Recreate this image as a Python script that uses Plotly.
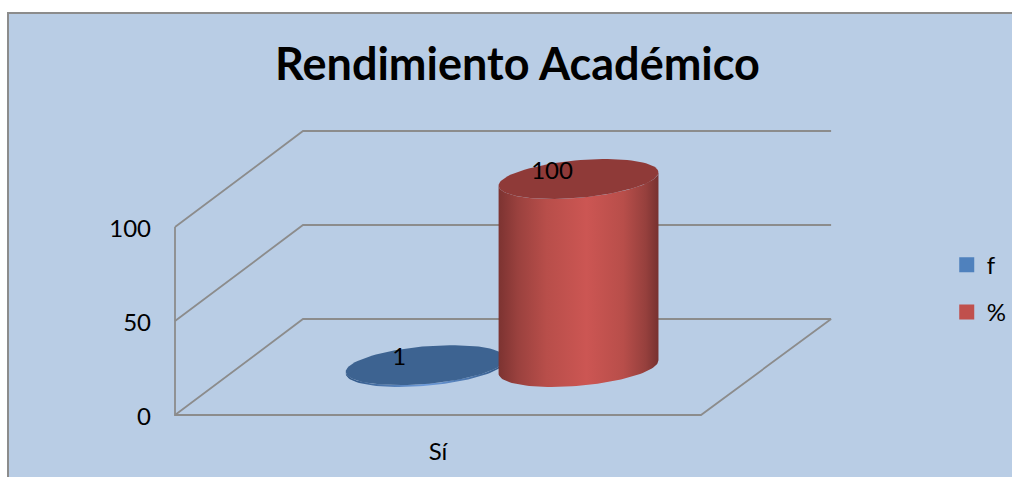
import numpy as np
import plotly.graph_objects as go

# ---- data ----
categories = ["Sí"]
series_names = ["f", "%"]
values_f = [1]
values_pct = [100]
y_ticks = [0, 50, 100]
title_text = "Rendimiento Académico"

# ---- styles ----
legend_colors = ["#4F81BD", "#C0504D"]
top_colors = ["#3D6391", "#8F3A38"]
body_scales = [
    [[0, "#2F5583"], [0.5, "#6D9BDB"], [1, "#2F5583"]],
    [[0, "#7C3331"], [0.12, "#9A413E"], [0.3, "#B84E4A"], [0.55, "#CC5653"],
     [0.78, "#B84E4A"], [0.92, "#96403D"], [1, "#773130"]],
]
GRID = "#8C8C8C"
BG = "#B9CDE5"
FONT = "Lato"

W, H = 1012, 477
L, T = 8, 13
X0, XW = 175, 526      # front edge of floor, px
Y0, YS = 415, 1.88     # baseline px, px per value unit
DX, DY = 128, 96       # depth vector px
BACK_END = 1.004       # slight perspective widening of the back wall
xr = [(L - X0) / XW, (W - X0) / XW]
yr = [(Y0 - H) / YS, (Y0 - T) / YS]
dxu, dyu = DX / XW, DY / YS


def proj(u, v, val):
    """category fraction u, depth v, value val -> axis coordinates"""
    return np.asarray(u) + np.asarray(v) * dxu, np.asarray(val) + np.asarray(v) * dyu


fig = go.Figure()


def line(pts):
    xs, ys = zip(*[proj(*p) for p in pts])
    fig.add_trace(go.Scatter(x=xs, y=ys, mode="lines", line=dict(color=GRID, width=1.8),
                             hoverinfo="skip", showlegend=False))


top = y_ticks[-1]
for t in y_ticks:
    line([(0, 0, t), (0, 1, t), (BACK_END, 1, t)])
line([(0, 0, top), (0, 0, 0), (1, 0, 0), (BACK_END, 1, 0)])

U_C = [0.355, 0.6455]
R_U, R_V = 0.1433, 0.208
th = np.radians(np.arange(0, 361, 4))
bx = R_U * XW
bd = R_V * DX
t_right = np.arctan2(bd, bx)


def ring(uc, val, a):
    return proj(uc + R_U * np.cos(a), 0.5 + R_V * np.sin(a), val)


for i, vals in enumerate([values_f, values_pct]):
    val = vals[0]
    a_front = np.linspace(t_right, t_right - np.pi, 60)
    xb, yb = ring(U_C[i], 0, a_front)
    xt, yt = ring(U_C[i], val, a_front[::-1])
    fig.add_trace(go.Scatter(
        x=np.r_[xb, xt], y=np.r_[yb, yt], mode="lines", line=dict(width=0),
        fill="toself", fillgradient=dict(type="horizontal", colorscale=body_scales[i]),
        hoverinfo="skip", showlegend=False))
    xc, yc = ring(U_C[i], val, th)
    fig.add_trace(go.Scatter(x=xc, y=yc, mode="lines", line=dict(width=0), fill="toself",
                             fillcolor=top_colors[i], hoverinfo="skip", showlegend=False))

for i, vals in enumerate([values_f, values_pct]):
    xl, yl = proj(U_C[i], 0.5, vals[0])
    fig.add_trace(go.Scatter(x=[xl - 26.5 / XW], y=[yl + 6.5 / YS], mode="text", text=[str(vals[0])],
                             textposition="middle center", cliponaxis=False,
                             textfont=dict(family=FONT, size=24, color="#000"),
                             hoverinfo="skip", showlegend=False))

for i, name in enumerate(series_names):
    fig.add_trace(go.Scatter(x=[None], y=[None], mode="markers", name=name, legendgroup=name,
                             marker=dict(symbol="square", size=15, color=legend_colors[i])))

fig.update_layout(
    width=W, height=H, autosize=False,
    margin=dict(l=L, r=0, t=T, b=0, pad=0, autoexpand=False),
    paper_bgcolor="white", plot_bgcolor=BG,
    font=dict(family=FONT, color="#000", size=24),
    title=dict(text=title_text, x=517.5 / W, xanchor="center", y=1 - 64 / H, yanchor="middle",
               font=dict(family=FONT, size=45, weight="bold", color="#000")),
    xaxis=dict(range=xr, tickmode="array", tickvals=[0.5], ticktext=categories, showgrid=False,
               zeroline=False, showline=False, ticks="", anchor="free",
               position=(H - Y0) / (H - T), ticklabelstandoff=20,
               tickfont=dict(family=FONT, size=24)),
    yaxis=dict(range=yr, tickmode="array", tickvals=y_ticks, showgrid=False, zeroline=False,
               showline=False, ticks="", anchor="free", position=(X0 - L) / (W - L),
               ticklabelstandoff=24, ticklabelshift=2, tickfont=dict(family=FONT, size=24)),
    legend=dict(x=0.935, y=0.505, xanchor="left", yanchor="top", bgcolor="rgba(0,0,0,0)",
                tracegroupgap=13, font=dict(family=FONT, size=24)),
    shapes=[dict(type="rect", xref="paper", yref="paper", x0=0, x1=1.01, y0=-0.01, y1=1,
                 line=dict(color=GRID, width=2), fillcolor="rgba(0,0,0,0)", layer="below")],
)

fig.write_html("out.html", config=dict(displayModeBar=False),
               post_script="document.body.style.margin='0';document.body.style.overflow='hidden';")
